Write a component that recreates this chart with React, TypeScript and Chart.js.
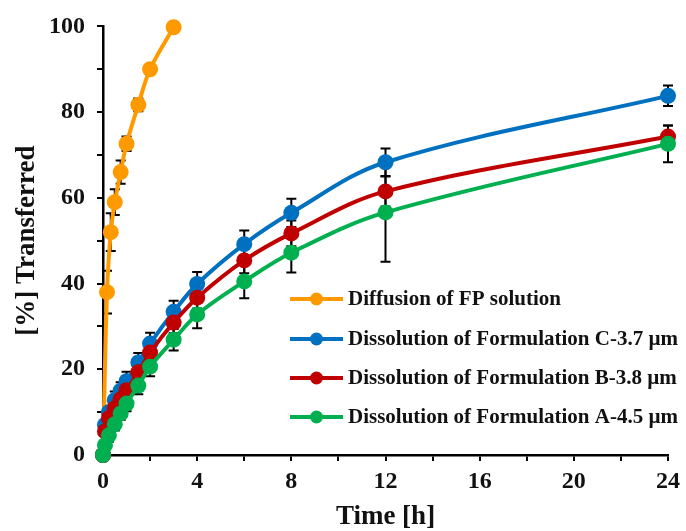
import { useEffect, useRef } from 'react';
import { Chart, registerables } from 'chart.js';

Chart.register(...registerables);

const FONT = "'Liberation Serif', 'Times New Roman', serif";

const orangeTimes = [0, 0.17, 0.33, 0.5, 0.75, 1, 1.5, 2, 3];
const orangeValues = [0, 38, 52, 59, 66, 72.6, 81.7, 90, 99.8];
const orangeErr = [0, 5, 4.4, 3, 2.7, 1.7, 1.5, 0.5, 0];

const formTimes = [0, 0.083, 0.25, 0.5, 0.75, 1, 1.5, 2, 3, 4, 6, 8, 12, 24];
const blueValues = [0, 7, 10, 12.8, 15, 17.2, 21.6, 26, 33.4, 39.9, 49.2, 56.5, 68.3, 83.8];
const blueErr = [0, 1, 1.5, 2, 2, 2.2, 2.2, 2.5, 2.6, 2.8, 3.2, 3.3, 3.2, 2.4];
const redValues = [0, 5.5, 8.6, 10.9, 13, 15.1, 19.3, 23.9, 30.9, 36.7, 45.4, 51.7, 61.5, 74.3];
const redErr = [0, 1, 1.5, 1.5, 1.5, 1.8, 2, 2.2, 2.5, 2.5, 3, 3, 3.5, 2.6];
const greenValues = [0, 2.3, 4.6, 7.2, 9.7, 12, 16.2, 20.6, 26.9, 32.8, 40.5, 47.2, 56.6, 72.6];
const greenErr = [0, 1, 1.5, 1.5, 1.5, 1.8, 2, 2.2, 2.5, 3.2, 3.9, 4.6, 11.5, 4.3];

const legendLabels = [
  'Diffusion of FP solution',
  'Dissolution of Formulation C-3.7 µm',
  'Dissolution of Formulation B-3.8 µm',
  'Dissolution of Formulation A-4.5 µm',
];
const colors = ['#FF9900', '#0070C0', '#C00000', '#00B050'];

const xTickValues = [0, 4, 8, 12, 16, 20, 24];
const yTickValues = [0, 20, 40, 60, 80, 100];

const toPoints = (t: number[], v: number[]) => t.map((x, i) => ({ x, y: v[i] }));

const errors = [orangeErr, blueErr, redErr, greenErr];

const errorBarPlugin = {
  id: 'errorBars',
  beforeDatasetsDraw(chart: any) {
    const ctx = chart.ctx;
    const yScale = chart.scales.y;
    ctx.save();
    ctx.strokeStyle = '#000';
    ctx.lineWidth = 2;
    chart.data.datasets.forEach((ds: any, di: number) => {
      const meta = chart.getDatasetMeta(di);
      const errs = errors[ds.errIndex];
      meta.data.forEach((pt: any, i: number) => {
        const e = errs[i];
        if (!e) return;
        const v = ds.data[i].y;
        const yTop = yScale.getPixelForValue(v + e);
        const yBot = yScale.getPixelForValue(v - e);
        const x = pt.x;
        ctx.beginPath();
        ctx.moveTo(x, yTop);
        ctx.lineTo(x, yBot);
        ctx.moveTo(x - 5, yTop);
        ctx.lineTo(x + 5, yTop);
        ctx.moveTo(x - 5, yBot);
        ctx.lineTo(x + 5, yBot);
        ctx.stroke();
      });
    });
    ctx.restore();
  },
};

const legendPlugin = {
  id: 'customLegend',
  afterDraw(chart: any) {
    const ctx = chart.ctx;
    const rowsY = [299, 339, 378, 417];
    ctx.save();
    legendLabels.forEach((label, i) => {
      const y = rowsY[i];
      ctx.strokeStyle = colors[i];
      ctx.lineWidth = 4;
      ctx.beginPath();
      ctx.moveTo(290, y);
      ctx.lineTo(343, y);
      ctx.stroke();
      ctx.fillStyle = colors[i];
      ctx.beginPath();
      ctx.arc(316.5, y, 6.5, 0, Math.PI * 2);
      ctx.fill();
      ctx.fillStyle = '#111';
      ctx.font = `bold 21px ${FONT}`;
      ctx.textBaseline = 'middle';
      ctx.textAlign = 'left';
      ctx.fillText(label, 348, y + 1);
    });
    ctx.restore();
  },
};

export default function App() {
  const ref = useRef<HTMLCanvasElement | null>(null);

  useEffect(() => {
    if (!ref.current) return;
    const mk = (label: string, t: number[], v: number[], color: string, errIndex: number, order: number, r: number) => ({
      label,
      data: toPoints(t, v),
      borderColor: color,
      backgroundColor: color,
      pointBackgroundColor: color,
      pointBorderColor: color,
      pointRadius: r,
      pointBorderWidth: 0,
      borderWidth: 4,
      tension: 0.35,
      clip: false as any,
      order,
      errIndex,
    });
    const chart = new Chart(ref.current, {
      type: 'line',
      data: {
        datasets: [
          mk(legendLabels[0], orangeTimes, orangeValues, colors[0], 0, 4, 8),
          mk(legendLabels[1], formTimes, blueValues, colors[1], 1, 3, 8),
          mk(legendLabels[2], formTimes, redValues, colors[2], 2, 2, 8),
          mk(legendLabels[3], formTimes, greenValues, colors[3], 3, 1, 8),
        ] as any,
      },
      options: {
        animation: false,
        responsive: false,
        maintainAspectRatio: false,
        layout: { padding: { top: 24, right: 14, left: 0, bottom: 0 } },
        plugins: {
          legend: { display: false },
          tooltip: { enabled: false },
        },
        scales: {
          x: {
            type: 'linear',
            min: 0,
            max: 24,
            afterFit: (s: any) => { s.height = 76; },
            border: { display: true, color: '#000', width: 2.5 },
            grid: { drawOnChartArea: false, drawTicks: true, tickLength: 6, color: '#000', lineWidth: 2 },
            ticks: {
              stepSize: 2,
              autoSkip: false,
              maxRotation: 0,
              padding: 6,
              color: '#111',
              font: { family: FONT, size: 24, weight: 'bold' },
              callback: (v: any) => (xTickValues.includes(Number(v)) ? String(v) : ''),
            },
            title: {
              display: true,
              text: 'Time [h]',
              color: '#111',
              font: { family: FONT, size: 27, weight: 'bold', lineHeight: 1 },
              padding: { top: 0, bottom: 0 },
            },
          },
          y: {
            type: 'linear',
            min: 0,
            max: 100,
            afterFit: (s: any) => { s.width = 103; },
            border: { display: true, color: '#000', width: 2.5 },
            grid: { drawOnChartArea: false, drawTicks: true, tickLength: 6, color: '#000', lineWidth: 2 },
            ticks: {
              stepSize: 10,
              autoSkip: false,
              padding: 12,
              color: '#111',
              font: { family: FONT, size: 24, weight: 'bold' },
              callback: (v: any) => (yTickValues.includes(Number(v)) ? String(v) : ''),
            },
            title: {
              display: true,
              text: '[%] Transferred',
              color: '#111',
              font: { family: FONT, size: 27, weight: 'bold' },
              padding: { top: 11, bottom: 0 },
            },
          },
        },
      } as any,
      plugins: [errorBarPlugin, legendPlugin],
    });
    return () => chart.destroy();
  }, []);

  return (
    <div style={{ position: 'fixed', left: 0, top: 0, width: 686, height: 531, background: '#fff' }}>
      <canvas ref={ref} width={686} height={531} style={{ width: 686, height: 531, display: 'block' }} />
    </div>
  );
}
